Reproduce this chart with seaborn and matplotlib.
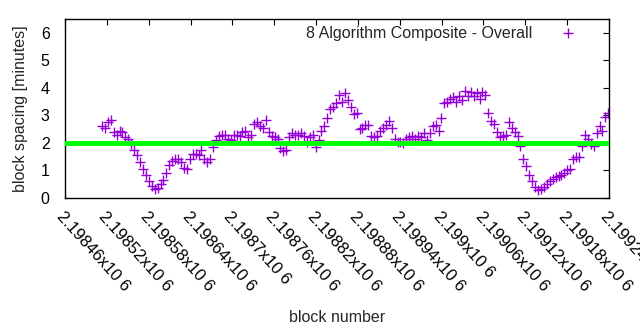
import numpy as np
import pandas as pd
import matplotlib
matplotlib.use("Agg")
import matplotlib.pyplot as plt
from matplotlib.lines import Line2D
import seaborn as sns

# block spacing readings (minutes), in block order
spacing = [
    2.6, 2.55, 2.75, 2.85, 2.4, 2.3, 2.45, 2.4, 2.2, 2.15,
    1.95, 1.75, 1.55, 1.3, 1.05, 0.85, 0.6, 0.45, 0.32, 0.35,
    0.5, 0.65, 0.9, 1.2, 1.35, 1.42, 1.4, 1.3, 1.1, 1.05,
    1.4, 1.6, 1.6, 1.55, 1.75, 1.4, 1.3, 1.4, 1.85, 2.1,
    2.25, 2.3, 2.3, 2.15, 2.1, 2.3, 2.3, 2.25, 2.4, 2.45,
    2.2, 2.3, 2.7, 2.75, 2.6, 2.55, 2.85, 2.4, 2.25, 2.2,
    2.15, 1.8, 1.7, 1.75, 2.2, 2.35, 2.3, 2.3, 2.35, 2.25,
    2.05, 2.2, 2.3, 1.85, 2.1, 2.45, 2.6, 2.9, 3.25, 3.3,
    3.45, 3.75, 3.5, 3.8, 3.55, 3.3, 3.05, 3.1, 2.5, 2.55,
    2.65, 2.65, 2.25, 2.2, 2.25, 2.45, 2.55, 2.65, 2.8, 2.55,
    2.15, 2.05, 2.05, 2.0, 2.15, 2.2, 2.25, 2.15, 2.25, 2.2,
    2.35, 2.1, 2.35, 2.6, 2.65, 2.45, 2.9, 3.45, 3.5, 3.6,
    3.65, 3.5, 3.7, 3.55, 3.9, 3.7, 3.85, 3.7, 3.8, 3.6,
    3.85, 3.75, 3.1, 2.8, 2.7, 2.4, 2.2, 2.25, 2.3, 2.75,
    2.55, 2.4, 2.25, 1.9, 1.4, 1.15, 0.85, 0.6, 0.4, 0.3,
    0.32, 0.4, 0.5, 0.6, 0.68, 0.75, 0.8, 0.85, 0.92, 1.0,
    1.05, 1.4, 1.5, 1.5, 1.9, 2.3, 2.15, 1.95, 1.9, 2.35,
    2.6, 2.45, 2.95, 3.1,
]
first_block = 2198513
last_block = 2199239
target = 2.0
x_ticks = [2198460, 2198520, 2198580, 2198640, 2198700, 2198760, 2198820,
           2198880, 2198940, 2199000, 2199060, 2199120, 2199180, 2199240]
y_ticks = [0, 1, 2, 3, 4, 5, 6]
series_label = "8 Algorithm Composite - Overall"

blocks = np.linspace(first_block, last_block, len(spacing))
df = pd.DataFrame({"block": blocks, "spacing": spacing})

sns.set_theme(style="white")
plt.rcParams["font.family"] = ["Liberation Sans", "DejaVu Sans"]

fig = plt.figure(figsize=(6.4, 3.3), dpi=100)
ax = fig.add_axes([65 / 640, 1 - 198 / 330, (609 - 65) / 640, (198 - 19) / 330])

sns.scatterplot(data=df, x="block", y="spacing", marker="+", s=50,
                color="#9400D3", linewidth=1.0, ax=ax, zorder=2, legend=False)
ax.axhline(target, color="#00FF00", lw=3.5, zorder=3)

ax.set_xlim(x_ticks[0], x_ticks[-1])
ax.set_ylim(0, 6.5)
ax.set_xticks(x_ticks)
ax.set_xticklabels([f"{v/1e6:g}x10 6" for v in x_ticks], rotation=-48,
                   ha="left", va="top", rotation_mode="anchor", fontsize=12)
ax.set_yticks(y_ticks)
ax.set_yticklabels([str(v) for v in y_ticks], fontsize=11.5)
ax.tick_params(direction="in", length=4, width=0.8, top=True, right=True,
               labeltop=False, labelright=False, colors="black")
ax.tick_params(axis="y", pad=11)
ax.tick_params(axis="x", pad=8)
for s in ax.spines.values():
    s.set_visible(True)
    s.set_color("black")
    s.set_linewidth(1)

ax.set_xlabel("block number", fontsize=11.5, labelpad=11)
ax.set_ylabel("block spacing [minutes]", fontsize=11.5, labelpad=9)

handle = Line2D([], [], marker="+", linestyle="none", color="#9400D3",
                markersize=7, markeredgewidth=1)
ax.legend(handles=[handle], labels=[series_label], loc="upper right",
          bbox_to_anchor=(1.0 - 14 / 544, 1.0 + 4 / 179), markerfirst=False,
          frameon=False, fontsize=11.5, handlelength=2.0, handletextpad=1.2,
          borderaxespad=0.3)

fig.savefig("out.png", dpi=100)
